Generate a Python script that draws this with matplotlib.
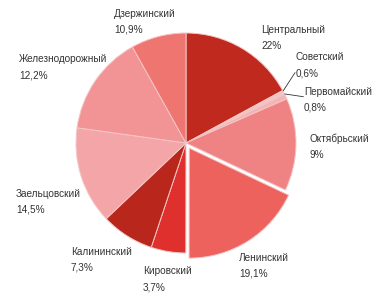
import matplotlib
matplotlib.use("Agg")
import matplotlib.pyplot as plt
from matplotlib import font_manager

districts = ["Центральный", "Советский", "Первомайский", "Октябрьский", "Ленинский",
             "Кировский", "Калининский", "Заельцовский", "Железнодорожный", "Дзержинский"]
# slice sizes as drawn in the picture
shares = [17.1, 0.6, 0.75, 13.6, 18.0, 5.1, 7.8, 14.3, 14.7, 8.1]
# percentages as printed in the labels
pct_labels = ["22%", "0,6%", "0,8%", "9%", "19,1%", "3,7%", "7,3%", "14,5%", "12,2%", "10,9%"]
colors = ["#c0291e", "#f4c4c4", "#f2b4b4", "#ef8282", "#ee625e",
          "#e0302d", "#b8261c", "#f4a5a8", "#f29395", "#ef7571"]
explode = [0, 0, 0, 0, 0.055, 0, 0, 0, 0, 0]

# label anchor (top-left, pixels from top-left of image)
label_pos = [(261, 25), (296, 52), (304, 87), (310, 134), (239, 253),
             (143, 266), (71, 247), (16, 189), (19, 54), (114, 9)]

fams = [f.name for f in font_manager.fontManager.ttflist]
fam = "Liberation Sans Narrow" if "Liberation Sans Narrow" in fams else "Liberation Sans"

W, H = 382, 303
fig = plt.figure(figsize=(W / 100, H / 100), dpi=100)
cx, cy, r = 186, 143, 110
ax = fig.add_axes([(cx - r) / W, (H - cy - r) / H, 2 * r / W, 2 * r / H])
ax.pie(shares, colors=colors, startangle=90, counterclock=False, explode=explode,
       radius=1.0, wedgeprops=dict(edgecolor="#f3c6c6", linewidth=0.7),
       frame=False)
ax.set_xlim(-1, 1)
ax.set_ylim(-1, 1)
ax.set_aspect("equal")
ax.axis("off")
for p in ax.patches:
    p.set_clip_on(False)

for name, pct, (x, y) in zip(districts, pct_labels, label_pos):
    fig.text(x / W, 1 - y / H, name, ha="left", va="top", fontsize=7.2,
             family=fam, color="#333333")
    fig.text(x / W, 1 - (y + 16) / H, pct, ha="left", va="top", fontsize=7.2,
             family=fam, color="#333333")

# leader lines for the small slices
fig.add_artist(plt.Line2D([283.3 / W, 295 / W], [1 - 90.7 / H, 1 - 72.7 / H],
                          color="#333333", linewidth=0.6))
fig.add_artist(plt.Line2D([285 / W, 303.3 / W], [1 - 94 / H, 1 - 96.7 / H],
                          color="#333333", linewidth=0.6))

fig.savefig("out.png", dpi=100)
